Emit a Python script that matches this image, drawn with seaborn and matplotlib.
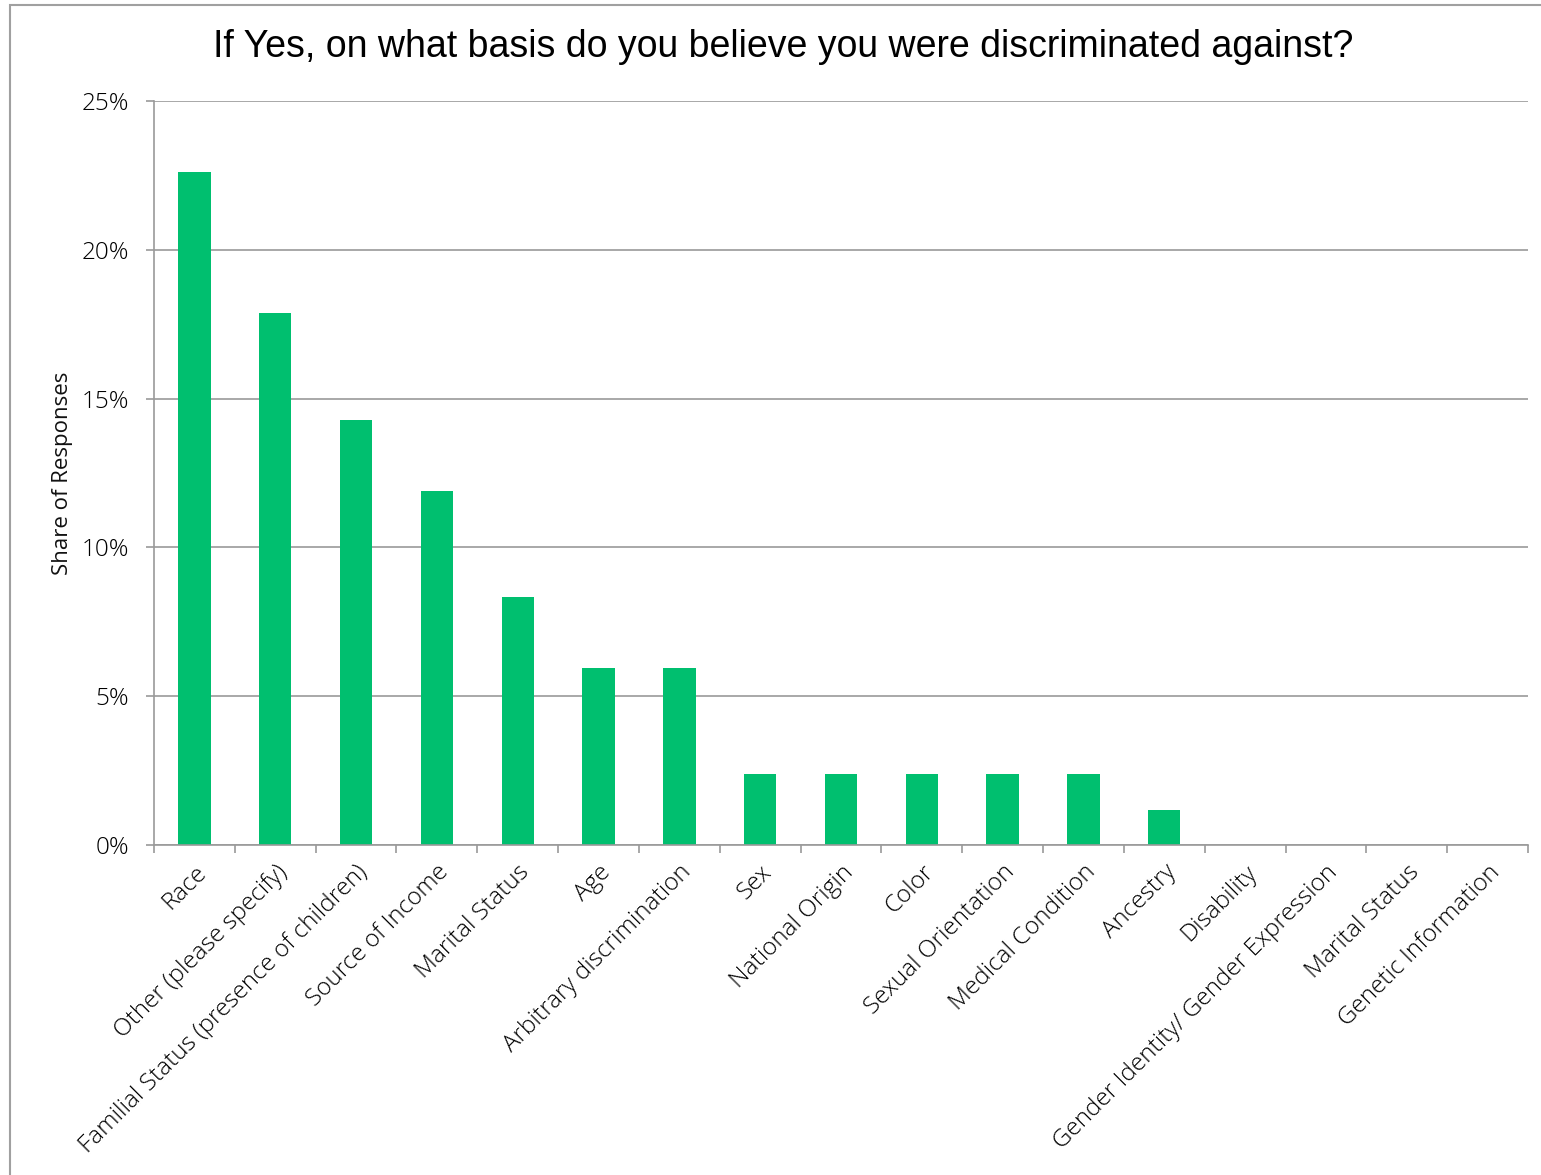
import numpy as np
import pandas as pd
import matplotlib
matplotlib.use("Agg")
import matplotlib.pyplot as plt
import matplotlib.transforms as mtransforms
import seaborn as sns
from matplotlib.ticker import PercentFormatter, MultipleLocator, FixedLocator
from matplotlib.patches import Rectangle

categories = [
    "Race", "Other (please specify)", "Familial Status (presence of children)",
    "Source of Income", "Marital Status", "Age", "Arbitrary discrimination",
    "Sex", "National Origin", "Color", "Sexual Orientation", "Medical Condition",
    "Ancestry", "Disability", "Gender Identity/ Gender Expression",
    "Marital Status", "Genetic Information",
]
shares = [0.2262, 0.1786, 0.1429, 0.1190, 0.0833, 0.0595, 0.0595,
          0.0238, 0.0238, 0.0238, 0.0238, 0.0238, 0.0119, 0.0, 0.0, 0.0, 0.0]

# "Marital Status" appears twice, so bars are keyed by position
df = pd.DataFrame({"pos": list(range(len(categories))), "share": shares})

sns.set_style("white")
plt.rcParams['font.family'] = ['Open Sans', 'DejaVu Sans']
plt.rcParams['font.weight'] = 'light'

fig = plt.figure(figsize=(15.41, 11.75), dpi=100)
ax = fig.add_axes([154 / 1541, 1 - 845 / 1175, 1374 / 1541, 744 / 1175])

sns.barplot(data=df, x="pos", y="share", color="#00BF6F", width=0.4,
            saturation=1, linewidth=0, ax=ax, zorder=3)

grey = "#9A9A9A"
ax.set_xlim(-0.5, len(categories) - 0.5)
ax.set_ylim(0, 0.25)
ax.yaxis.set_major_locator(MultipleLocator(0.05))
ax.yaxis.set_major_formatter(PercentFormatter(1.0, decimals=0))
ax.grid(axis="y", color=grey, linewidth=1.2, zorder=0)
ax.grid(axis="x", visible=False)

ax.set_xticks(range(len(categories)))
ax.set_xticklabels(categories, rotation=45, ha="right", rotation_mode="anchor",
                   fontsize=17.5, color="black")
# nudge the slanted labels a little to the left, as in the original
shift = mtransforms.ScaledTranslation(-5 / 100, 0, fig.dpi_scale_trans)
for lab in ax.get_xticklabels():
    lab.set_transform(lab.get_transform() + shift)
ax.xaxis.set_minor_locator(FixedLocator(np.arange(-0.5, len(categories), 1.0)))
ax.tick_params(axis="x", which="major", length=0, pad=11)
ax.tick_params(axis="x", which="minor", length=6, color=grey, width=1.2, bottom=True)
ax.tick_params(axis="y", which="major", length=6, color=grey, width=1.2, left=True,
               labelsize=17.5, labelcolor="black", pad=12)

for side in ["top", "right"]:
    ax.spines[side].set_visible(False)
for side in ["left", "bottom"]:
    ax.spines[side].set_color(grey)
    ax.spines[side].set_linewidth(1.2)
    ax.spines[side].set_zorder(4)

ax.set_xlabel("")
ax.set_ylabel("Share of Responses", fontsize=16, color="#111111", labelpad=6)

fig.text(783 / 1541, 1 - 47 / 1175,
         "If Yes, on what basis do you believe you were discriminated against?",
         ha="center", va="center", fontsize=27, color="black", fontweight="normal",
         family=["Liberation Sans", "DejaVu Sans"])

fig.patches.append(Rectangle((10 / 1541, -0.01), 1.02, 1.01 - 5 / 1175,
                             transform=fig.transFigure, fill=False,
                             edgecolor="#A0A0A0", linewidth=1.5))

fig.savefig("out.png", dpi=100)
